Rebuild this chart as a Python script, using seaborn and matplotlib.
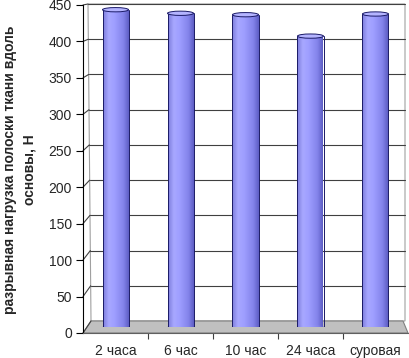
import matplotlib

matplotlib.use("Agg")
import matplotlib.pyplot as plt
import numpy as np
import seaborn as sns
from matplotlib.colors import LinearSegmentedColormap
from matplotlib.patches import Arc, Ellipse, Polygon, Rectangle

categories = ["2 часа", "6 час", "10 час", "24 часа", "суровая"]
load_values = [445, 440, 438, 408, 439]
y_ticks = list(range(0, 451, 50))
y_label = "разрывная нагрузка полоски ткани вдоль\nосновы, Н"

W, H = 410, 358
FRONT_X0, FRONT_X1 = 83, 408
FRONT_Y0, FRONT_SCALE = 333, 0.729   # front plane: pixel y of 0, px per unit
BACK_Y0, BACK_SCALE = 321, 0.7044    # back wall
MID_Y0, MID_SCALE = 327, 0.713       # plane the cylinders stand in

sns.set_style("white")
plt.rcParams["font.family"] = ["Liberation Sans", "DejaVu Sans"]
plt.rcParams["font.size"] = 10

fig = plt.figure(figsize=(W / 100, H / 100), dpi=100)

# --- walls and floor, drawn in pixel space
bg = fig.add_axes([0, 0, 1, 1], zorder=0)
bg.set_xlim(0, W)
bg.set_ylim(H, 0)
bg.axis("off")


def back_x(v):
    return 91 - v * 3 / 450


def back_y(v):
    return BACK_Y0 - v * BACK_SCALE


def front_y(v):
    return FRONT_Y0 - v * FRONT_SCALE


top = y_ticks[-1]
bg.add_patch(Polygon([(back_x(0), back_y(0)), (back_x(top), back_y(top)), (405, back_y(top)), (405, back_y(0))],
                     closed=True, facecolor="white", edgecolor="#a0a0a0", linewidth=0.8))
for v in y_ticks[1:]:
    bg.plot([back_x(v), 405], [back_y(v), back_y(v)], color="#404040", linewidth=0.8)
for v in y_ticks:
    bg.plot([FRONT_X0, back_x(v)], [front_y(v), back_y(v)], color="#404040", linewidth=0.8)
bg.add_patch(Polygon([(FRONT_X0, FRONT_Y0), (back_x(0), BACK_Y0), (403, BACK_Y0), (FRONT_X1, FRONT_Y0)],
                     closed=True, facecolor="#c0c0c0", edgecolor="#808080", linewidth=0.8))

# --- front axis with ticks and labels
front = fig.add_axes([FRONT_X0 / W, (H - FRONT_Y0) / H, (FRONT_X1 - FRONT_X0) / W, top * FRONT_SCALE / H], zorder=1)
front.set_facecolor("none")
front.set_xlim(-0.5, len(categories) - 0.5)
front.set_ylim(0, top)
front.set_yticks(y_ticks)
front.set_xticks(range(len(categories)))
front.set_xticklabels(categories)
front.set_xticks(np.arange(0.5, len(categories) - 1, 1.0), minor=True)
front.tick_params(axis="x", which="major", length=0, pad=8)
front.tick_params(axis="x", which="minor", length=4, color="#404040", width=0.8, direction="out", bottom=True)
front.tick_params(axis="y", length=5, width=0.8, color="black", direction="out", left=True, pad=3)
for side in ["top", "right"]:
    front.spines[side].set_visible(False)
front.spines["left"].set_color("black")
front.spines["left"].set_linewidth(0.8)
front.spines["bottom"].set_color("#606060")
front.spines["bottom"].set_linewidth(0.8)
front.grid(False)

fig.text(20 / W, 1 - 170 / H, y_label, rotation=90, ha="center", va="center",
         fontsize=10, fontweight="bold", linespacing=1.5)

# --- cylinders
ax = fig.add_axes([FRONT_X0 / W, (H - MID_Y0) / H, (FRONT_X1 - FRONT_X0) / W, top * MID_SCALE / H], zorder=2)
ax.set_facecolor("none")
sns.barplot(x=categories, y=load_values, ax=ax, width=0.4, color="#9999ff", saturation=1)
ax.axis("off")

shade = LinearSegmentedColormap.from_list(
    "cyl", [(0.0, "#7d7ddc"), (0.22, "#a8a8ff"), (0.45, "#9e9eff"), (0.8, "#8383ea"), (1.0, "#5e5ec4")])
grad = np.linspace(0, 1, 64)[None, :]
ell_h = 6

for p in list(ax.patches):
    x0, w, h = p.get_x(), p.get_width(), p.get_height()
    cx = x0 + w / 2
    p.set_visible(False)
    body = Rectangle((x0, 0), w, h, transform=ax.transData)
    base = Ellipse((cx, 0), w, ell_h, transform=ax.transData)
    for clip in (body, base):
        im = ax.imshow(grad, cmap=shade, extent=(x0, x0 + w, -ell_h, h), aspect="auto", zorder=3)
        im.set_clip_path(clip)
    ax.plot([x0, x0], [0, h], color="#1a1a66", linewidth=0.7, zorder=4)
    ax.plot([x0 + w, x0 + w], [0, h], color="#1a1a66", linewidth=0.7, zorder=4)
    ax.add_patch(Arc((cx, 0), w, ell_h, theta1=180, theta2=360, color="#1a1a66", linewidth=0.7, zorder=4))
    ax.add_patch(Ellipse((cx, h), w, ell_h, facecolor="#b4b4ff", edgecolor="#1a1a66", linewidth=0.7, zorder=5))

ax.set_xlim(-0.5, len(categories) - 0.5)
ax.set_ylim(0, top)

fig.savefig("out.png", dpi=100)
